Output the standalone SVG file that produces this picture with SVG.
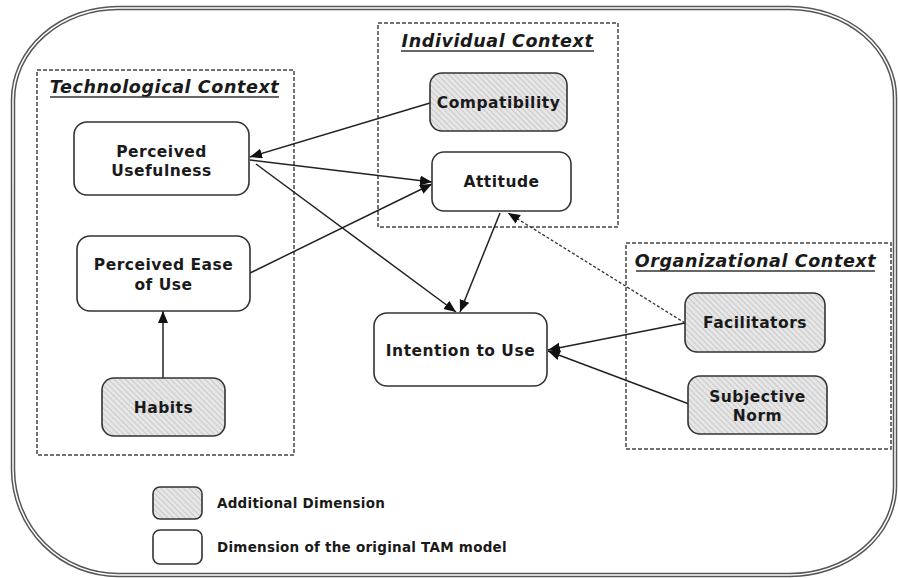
<svg xmlns="http://www.w3.org/2000/svg" width="898" height="578" viewBox="0 0 898 578">
<defs>
<pattern id="hatch" patternUnits="userSpaceOnUse" width="4" height="4" patternTransform="rotate(-45)">
<rect width="4" height="4" fill="#e6e6e6"/>
<line x1="0" y1="0" x2="0" y2="4" stroke="#acacac" stroke-width="1"/>
</pattern>
<marker id="arr" markerUnits="userSpaceOnUse" markerWidth="14" markerHeight="12" refX="12" refY="5" orient="auto">
<path d="M0,0 L12,5 L0,10 Z" fill="#111"/>
</marker>
</defs>
<style>
.frame{fill:none;stroke:#555;stroke-width:4.5}
.frame2{fill:none;stroke:#fff;stroke-width:1.5}
.ctx{fill:none;stroke:#444;stroke-width:1.5;stroke-dasharray:4 2}
.node{fill:#fff;stroke:#333;stroke-width:1.6}
.add{fill:url(#hatch);stroke:#333;stroke-width:1.6}
.t{font-family:"DejaVu Sans",Verdana,sans-serif;font-weight:bold;font-size:15.5px;letter-spacing:0.5px;fill:#1a1a1a;text-anchor:middle}
.title{font-family:"DejaVu Sans",Verdana,sans-serif;font-weight:bold;font-style:italic;font-size:17.5px;letter-spacing:0.6px;fill:#1a1a1a;text-anchor:middle}
.ul{stroke:#333;stroke-width:1.3}
.lg{font-family:"DejaVu Sans",Verdana,sans-serif;font-weight:bold;font-size:13.5px;letter-spacing:0.25px;fill:#1a1a1a}
.c{fill:none;stroke:#222;stroke-width:1.5;marker-end:url(#arr)}
.cd{fill:none;stroke:#333;stroke-width:1.3;stroke-dasharray:3 2;marker-end:url(#arr)}
</style>
<g id="frame">
<path class="frame" d="M118 8 L790 8 A106 90 0 0 1 895 98 L895 487 A106 89 0 0 1 790 575 L118 575 A105 106 0 0 1 13 470 L13 100 A105 92 0 0 1 118 8 Z"/>
<path class="frame2" d="M118 8 L790 8 A106 90 0 0 1 895 98 L895 487 A106 89 0 0 1 790 575 L118 575 A105 106 0 0 1 13 470 L13 100 A105 92 0 0 1 118 8 Z"/>
</g>
<g id="technological-context">
<rect class="ctx" x="37" y="70" width="257" height="385"/>
<text class="title" x="164.5" y="93">Technological Context</text>
<line class="ul" x1="50" y1="97" x2="279" y2="97"/>
</g>
<g id="individual-context">
<rect class="ctx" x="378" y="23" width="240" height="204"/>
<text class="title" x="497.5" y="47">Individual Context</text>
<line class="ul" x1="401" y1="51" x2="594" y2="51"/>
</g>
<g id="organizational-context">
<rect class="ctx" x="626" y="243" width="265" height="206"/>
<text class="title" x="755.5" y="267">Organizational Context</text>
<line class="ul" x1="636" y1="271" x2="875" y2="271"/>
</g>
<g id="connectors">
<path class="c" d="M430 103 L250 157"/>
<path class="c" d="M250 160 L432 182"/>
<path class="c" d="M250 273 L432 184"/>
<path class="c" d="M256 164 L456 312"/>
<path class="c" d="M500 213 L460 312"/>
<path class="cd" d="M685 323 L508 213"/>
<path class="c" d="M685 323 L548 350"/>
<path class="c" d="M689 404 L548 351"/>
<path class="c" d="M163 378 L163 311"/>
</g>
<g id="perceived-usefulness">
<rect class="node" x="74" y="122" width="175" height="73" rx="13"/>
<text class="t" x="161.5" y="157">Perceived</text>
<text class="t" x="161.5" y="176">Usefulness</text>
</g>
<g id="perceived-ease-of-use">
<rect class="node" x="77" y="236" width="173" height="75" rx="13"/>
<text class="t" x="163.5" y="270">Perceived Ease</text>
<text class="t" x="163.5" y="290">of Use</text>
</g>
<g id="habits">
<rect class="add" x="102" y="378" width="123" height="58" rx="12"/>
<text class="t" x="163.5" y="413">Habits</text>
</g>
<g id="compatibility">
<rect class="add" x="430" y="73" width="137" height="58" rx="12"/>
<text class="t" x="498.5" y="108">Compatibility</text>
</g>
<g id="attitude">
<rect class="node" x="432" y="152" width="139" height="59" rx="12"/>
<text class="t" x="501.5" y="187">Attitude</text>
</g>
<g id="intention-to-use">
<rect class="node" x="374" y="313" width="173" height="73" rx="13"/>
<text class="t" x="460.5" y="356">Intention to Use</text>
</g>
<g id="facilitators">
<rect class="add" x="685" y="293" width="140" height="59" rx="12"/>
<text class="t" x="755" y="328">Facilitators</text>
</g>
<g id="subjective-norm">
<rect class="add" x="688" y="376" width="139" height="58" rx="12"/>
<text class="t" x="757.5" y="402">Subjective</text>
<text class="t" x="757.5" y="421">Norm</text>
</g>
<g id="legend">
<rect class="add" x="153" y="487" width="49" height="32" rx="7"/>
<text class="lg" x="217" y="508">Additional Dimension</text>
<rect class="node" x="153" y="530" width="49" height="34" rx="7"/>
<text class="lg" x="217" y="552">Dimension of the original TAM model</text>
</g>
</svg>
